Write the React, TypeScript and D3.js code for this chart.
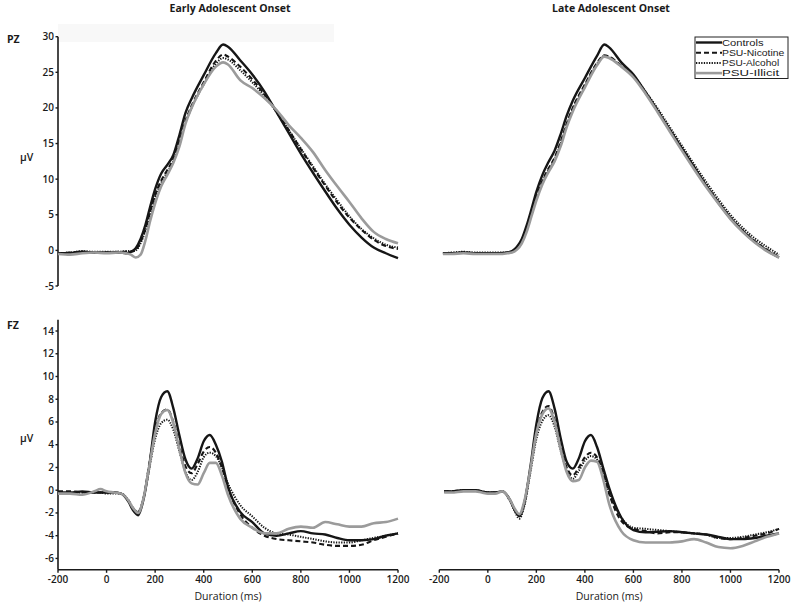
import React from 'react';
import * as d3 from 'd3';

const SERIES = ['Controls', 'PSU-Nicotine', 'PSU-Alcohol', 'PSU-Illicit'];
const PANEL_TITLES = ['Early Adolescent Onset', 'Late Adolescent Onset'];
const ROW_LABELS = ['PZ', 'FZ'];
const X_TICKS = [-200, 0, 200, 400, 600, 800, 1000, 1200];
const PZ_TICKS = [30, 25, 20, 15, 10, 5, 0, -5];
const FZ_TICKS = [14, 12, 10, 8, 6, 4, 2, 0, -2, -4, -6];
const X_LABEL = 'Duration (ms)';
const Y_LABEL = 'μV';

const TIMES_PZ = [-200, -150, -100, -50, 0, 50, 80, 100, 120, 140, 160, 180, 200, 225, 250, 275, 300, 325, 350, 400, 450, 480, 500, 550, 600, 650, 700, 750, 800, 850, 900, 950, 1000, 1050, 1100, 1150, 1200];
const TIMES_PZ_LATE = [-185, ...TIMES_PZ.slice(1)];
const TIMES_FZ = [-200, -150, -100, -50, -25, 0, 30, 60, 90, 110, 130, 150, 175, 200, 225, 250, 275, 300, 325, 350, 375, 400, 425, 450, 475, 500, 550, 600, 650, 700, 750, 800, 850, 900, 950, 1000, 1050, 1100, 1150, 1200];
const TIMES_FZ_LATE = [-180, ...TIMES_FZ.slice(1)];

// PZ, early onset
const PZ_EARLY_CONTROLS = [-0.4, -0.4, -0.2, -0.3, -0.3, -0.3, -0.4, -0.2, 0.3, 1.6, 3.6, 6.2, 8.6, 10.8, 12.0, 13.4, 16.2, 19.3, 21.3, 24.6, 27.7, 28.9, 28.6, 26.7, 24.7, 22.3, 19.4, 16.5, 13.6, 10.9, 8.3, 5.8, 3.6, 1.8, 0.4, -0.4, -1.1];
const PZ_EARLY_NICOTINE = [-0.4, -0.3, -0.2, -0.3, -0.3, -0.2, -0.2, -0.2, 0.1, 1.2, 3.0, 5.5, 7.8, 9.8, 11.3, 12.8, 15.3, 18.2, 20.3, 23.6, 26.6, 27.5, 27.2, 25.8, 24.0, 21.9, 19.5, 16.9, 14.2, 11.6, 9.1, 6.7, 4.6, 2.9, 1.5, 0.6, 0.2];
const PZ_EARLY_ALCOHOL = [-0.4, -0.3, -0.1, -0.2, -0.2, -0.2, -0.1, -0.1, 0.0, 1.0, 2.8, 5.2, 7.5, 9.5, 11.0, 12.5, 15.0, 17.9, 20.0, 23.3, 26.2, 27.0, 26.8, 25.3, 23.6, 21.7, 19.4, 16.9, 14.3, 11.8, 9.3, 7.0, 4.8, 3.0, 1.7, 0.8, 0.4];
const PZ_EARLY_ILLICIT = [-0.5, -0.6, -0.4, -0.3, -0.4, -0.3, -0.4, -0.6, -1.0, -0.6, 1.4, 4.2, 6.6, 9.0, 10.6, 12.3, 14.6, 17.8, 20.0, 23.3, 25.8, 26.4, 26.1, 23.9, 22.8, 21.4, 19.7, 17.6, 15.8, 13.8, 11.3, 9.0, 6.8, 4.5, 2.6, 1.6, 1.0];

// PZ, late onset
const PZ_LATE_CONTROLS = [-0.4, -0.4, -0.3, -0.4, -0.4, -0.4, -0.3, -0.1, 0.5, 1.6, 3.5, 5.8, 8.2, 10.6, 12.4, 14.0, 16.3, 18.9, 21.0, 24.2, 27.3, 28.9, 28.5, 26.4, 24.7, 22.2, 19.6, 16.9, 14.3, 11.7, 9.1, 6.7, 4.5, 2.7, 1.2, 0.0, -1.0];
const PZ_LATE_NICOTINE = [-0.4, -0.4, -0.3, -0.4, -0.4, -0.4, -0.3, -0.2, 0.3, 1.3, 3.0, 5.2, 7.5, 9.8, 11.5, 13.0, 15.2, 17.8, 20.0, 23.3, 26.3, 27.4, 27.2, 25.9, 24.4, 22.1, 19.6, 16.9, 14.3, 11.7, 9.1, 6.8, 4.6, 2.8, 1.3, 0.1, -0.9];
const PZ_LATE_ALCOHOL = [-0.4, -0.3, -0.2, -0.3, -0.3, -0.3, -0.3, -0.2, 0.2, 1.2, 2.9, 5.0, 7.3, 9.6, 11.3, 12.8, 15.0, 17.6, 19.8, 23.1, 26.2, 27.3, 27.1, 25.9, 24.5, 22.3, 19.9, 17.3, 14.7, 12.1, 9.6, 7.2, 5.0, 3.2, 1.7, 0.5, -0.6];
const PZ_LATE_ILLICIT = [-0.5, -0.5, -0.4, -0.5, -0.5, -0.5, -0.4, -0.3, 0.1, 1.0, 2.6, 4.8, 7.0, 9.3, 11.0, 12.5, 14.6, 17.3, 19.5, 22.9, 26.0, 27.2, 27.0, 25.8, 24.3, 22.0, 19.4, 16.7, 14.0, 11.4, 8.9, 6.6, 4.4, 2.6, 1.1, -0.1, -1.0];

// FZ, early onset
const FZ_EARLY_CONTROLS = [-0.2, -0.2, -0.1, -0.2, -0.2, -0.2, -0.2, -0.3, -1.0, -1.8, -2.2, -1.0, 2.0, 6.0, 8.2, 8.7, 7.2, 4.8, 2.7, 1.9, 2.8, 4.3, 4.85, 4.0, 2.5, 0.3, -1.9, -2.8, -3.8, -4.0, -3.8, -3.6, -3.8, -3.9, -4.2, -4.4, -4.4, -4.3, -4.0, -3.8];
const FZ_EARLY_NICOTINE = [-0.1, -0.1, -0.2, -0.2, -0.2, -0.2, -0.2, -0.3, -0.9, -1.6, -1.9, -0.9, 2.2, 5.2, 6.8, 7.1, 6.0, 3.9, 2.1, 1.5, 2.3, 3.4, 3.8, 3.3, 2.0, 0.2, -2.1, -3.3, -4.0, -4.3, -4.4, -4.5, -4.6, -4.8, -4.9, -4.9, -4.8, -4.4, -4.1, -3.8];
const FZ_EARLY_ALCOHOL = [-0.3, -0.3, -0.2, -0.2, -0.2, -0.3, -0.3, -0.3, -0.9, -1.6, -1.9, -0.9, 1.8, 4.5, 5.9, 6.2, 5.3, 3.4, 1.6, 0.9, 1.6, 2.9, 3.3, 3.0, 2.0, 0.6, -1.3, -2.3, -3.3, -3.8, -3.9, -4.1, -4.3, -4.5, -4.6, -4.6, -4.4, -4.2, -4.0, -3.8];
const FZ_EARLY_ILLICIT = [-0.3, -0.3, -0.4, -0.1, 0.1, -0.1, -0.2, -0.3, -0.9, -1.6, -2.0, -0.9, 2.0, 5.0, 6.7, 7.05, 5.9, 3.6, 1.5, 0.6, 0.5, 1.5, 2.4, 2.4, 1.3, -0.4, -2.5, -3.3, -3.8, -3.8, -3.4, -3.2, -3.3, -2.8, -3.0, -3.2, -3.2, -2.9, -2.8, -2.5];

// FZ, late onset
const FZ_LATE_CONTROLS = [-0.1, -0.1, 0.0, 0.0, -0.1, -0.2, -0.2, -0.1, -0.8, -1.7, -2.3, -1.2, 2.0, 5.8, 8.1, 8.7, 7.2, 4.6, 2.5, 1.9, 2.8, 4.3, 4.85, 3.8, 2.0, 0.2, -2.4, -3.5, -3.7, -3.65, -3.6, -3.7, -3.8, -3.9, -4.1, -4.3, -4.3, -4.2, -4.0, -3.8];
const FZ_LATE_NICOTINE = [-0.1, -0.1, 0.0, 0.0, -0.1, -0.2, -0.2, -0.1, -0.8, -1.7, -2.2, -1.1, 1.8, 5.0, 6.9, 7.4, 6.2, 3.8, 2.0, 1.3, 2.0, 2.9, 3.3, 2.9, 1.6, -0.3, -2.7, -3.4, -3.6, -3.8, -3.7, -3.7, -3.8, -3.9, -4.2, -4.3, -4.2, -4.0, -3.8, -3.4];
const FZ_LATE_ALCOHOL = [-0.1, -0.1, 0.0, 0.0, -0.1, -0.2, -0.2, -0.1, -0.9, -1.8, -2.5, -1.4, 1.5, 4.5, 6.1, 6.6, 5.6, 3.5, 1.8, 1.0, 1.7, 2.6, 3.0, 2.7, 1.5, -0.2, -2.4, -3.3, -3.4, -3.5, -3.6, -3.7, -3.8, -3.9, -4.2, -4.2, -4.1, -3.9, -3.7, -3.4];
const FZ_LATE_ILLICIT = [-0.2, -0.2, -0.1, -0.1, -0.2, -0.3, -0.3, -0.1, -0.8, -1.6, -2.1, -1.0, 1.8, 5.0, 6.7, 7.2, 6.0, 3.6, 1.6, 0.8, 0.9, 2.0, 2.6, 2.5, 1.0, -1.2, -3.6, -4.4, -4.6, -4.6, -4.6, -4.5, -4.3, -4.6, -5.0, -5.1, -4.9, -4.5, -4.1, -3.8];

const FONT = "'Open Sans', 'DejaVu Sans', sans-serif";
const LEGEND_FONT = "'Liberation Sans', Arial, sans-serif";
const INK = '#1a1a1a';

const STYLES = [
  { stroke: '#161616', width: 2.4, dash: undefined as string | undefined },
  { stroke: '#161616', width: 2.1, dash: '5,3' },
  { stroke: '#161616', width: 2.0, dash: '1.3,1.3' },
  { stroke: '#9b9b9b', width: 2.6, dash: undefined as string | undefined },
];

type Panel = {
  times: number[];
  series: number[][];
  row: number;
  col: number;
};

const COLS = [
  { x0: 58, x1: 398 },
  { x0: 439.3, x1: 779 },
];
const ROWS = [
  { domain: [-5, 30], y0: 286, y1: 36.7, ticks: PZ_TICKS },
  { domain: [-7, 15], y0: 569.8, y1: 319.65, ticks: FZ_TICKS },
];

const PANELS: Panel[] = [
  { times: TIMES_PZ, series: [PZ_EARLY_CONTROLS, PZ_EARLY_NICOTINE, PZ_EARLY_ALCOHOL, PZ_EARLY_ILLICIT], row: 0, col: 0 },
  { times: TIMES_PZ_LATE, series: [PZ_LATE_CONTROLS, PZ_LATE_NICOTINE, PZ_LATE_ALCOHOL, PZ_LATE_ILLICIT], row: 0, col: 1 },
  { times: TIMES_FZ, series: [FZ_EARLY_CONTROLS, FZ_EARLY_NICOTINE, FZ_EARLY_ALCOHOL, FZ_EARLY_ILLICIT], row: 1, col: 0 },
  { times: TIMES_FZ_LATE, series: [FZ_LATE_CONTROLS, FZ_LATE_NICOTINE, FZ_LATE_ALCOHOL, FZ_LATE_ILLICIT], row: 1, col: 1 },
];

function PanelView({ p }: { p: Panel }) {
  const c = COLS[p.col];
  const r = ROWS[p.row];
  const x = d3.scaleLinear().domain([-200, 1200]).range([c.x0, c.x1]);
  const y = d3.scaleLinear().domain(r.domain).range([r.y0, r.y1]);
  const line = d3
    .line<[number, number]>()
    .x((d) => x(d[0]))
    .y((d) => y(d[1]))
    .curve(d3.curveMonotoneX);
  return (
    <g>
      {p.series.map((vals, i) => {
        const pts = p.times.map((t, k) => [t, vals[k]] as [number, number]);
        const s = STYLES[i];
        return (
          <path
            key={i}
            d={line(pts) || ''}
            fill="none"
            stroke={s.stroke}
            strokeWidth={s.width}
            strokeDasharray={s.dash}
            strokeLinejoin="round"
          />
        );
      })}
    </g>
  );
}

function YAxis({ row }: { row: number }) {
  const r = ROWS[row];
  const y = d3.scaleLinear().domain(r.domain).range([r.y0, r.y1]);
  const x0 = COLS[0].x0;
  return (
    <g>
      <line x1={x0} x2={x0} y1={y(r.domain[1])} y2={y(r.domain[0])} stroke={INK} strokeWidth={1.6} />
      {r.ticks.map((t) => (
        <g key={t}>
          <line x1={x0 - 2.5} x2={x0} y1={y(t)} y2={y(t)} stroke={INK} strokeWidth={1.4} />
          <text x={x0 - 4} y={y(t)} dy="0.35em" textAnchor="end" fontSize={10} fontWeight={600} fill={INK} fontFamily={FONT}>
            {t}
          </text>
        </g>
      ))}
    </g>
  );
}

function XAxis({ col }: { col: number }) {
  const c = COLS[col];
  const x = d3.scaleLinear().domain([-200, 1200]).range([c.x0, c.x1]);
  const yA = ROWS[1].y0;
  return (
    <g>
      <line x1={c.x0} x2={c.x1} y1={yA} y2={yA} stroke={INK} strokeWidth={1.6} />
      {X_TICKS.map((t) => (
        <g key={t}>
          <line x1={x(t)} x2={x(t)} y1={yA} y2={yA + 3} stroke={INK} strokeWidth={1.4} />
          <text x={x(t)} y={yA + 13} textAnchor="middle" fontSize={10} fontWeight={600} fill={INK} fontFamily={FONT}>
            {t}
          </text>
        </g>
      ))}
      <text x={(c.x0 + c.x1) / 2} y={600} textAnchor="middle" fontSize={10.5} fontWeight={500} fill={INK} fontFamily={FONT}>
        {X_LABEL}
      </text>
    </g>
  );
}

function Legend() {
  const lx = 695;
  const ly = 37;
  const w = 93;
  const h = 41.5;
  const step = 10.2;
  return (
    <g>
      <rect x={lx} y={ly} width={w} height={h} fill="#fff" stroke="#222" strokeWidth={1} />
      {SERIES.map((name, i) => {
        const yy = ly + 5.5 + i * step;
        const s = STYLES[i];
        return (
          <g key={name}>
            <line x1={lx + 1} x2={lx + 27} y1={yy} y2={yy} stroke={s.stroke} strokeWidth={s.width} strokeDasharray={s.dash} />
            <text x={lx + 27} y={yy} dy="0.35em" fontSize={8.6} textLength={name.length * 5.2} lengthAdjust="spacingAndGlyphs" fill={INK} fontFamily={LEGEND_FONT}>
              {name}
            </text>
          </g>
        );
      })}
    </g>
  );
}

export default function App() {
  return (
    <svg
      width={800}
      height={605}
      viewBox="0 0 800 605"
      style={{ position: 'absolute', left: 0, top: 0, background: '#fff' }}
    >
      <rect x={0} y={0} width={800} height={605} fill="#fff" />
      <rect x={58} y={24} width={276} height={18} fill="#f8f8f8" />
      {PANEL_TITLES.map((t, i) => (
        <text key={t} x={i === 0 ? 230 : 611} y={12} textAnchor="middle" fontSize={10.5} fontWeight={700} fill={INK} fontFamily={FONT}>
          {t}
        </text>
      ))}
      <text x={7} y={43} fontSize={10.5} fontWeight={700} fill={INK} fontFamily={FONT}>{ROW_LABELS[0]}</text>
      <text x={7} y={329} fontSize={10.5} fontWeight={700} fill={INK} fontFamily={FONT}>{ROW_LABELS[1]}</text>
      <text x={20} y={161} fontSize={10.5} fontWeight={600} fill={INK} fontFamily={FONT}>{Y_LABEL}</text>
      <text x={20} y={442} fontSize={10.5} fontWeight={600} fill={INK} fontFamily={FONT}>{Y_LABEL}</text>
      <YAxis row={0} />
      <YAxis row={1} />
      <XAxis col={0} />
      <XAxis col={1} />
      {PANELS.map((p, i) => (
        <PanelView key={i} p={p} />
      ))}
      <Legend />
    </svg>
  );
}
